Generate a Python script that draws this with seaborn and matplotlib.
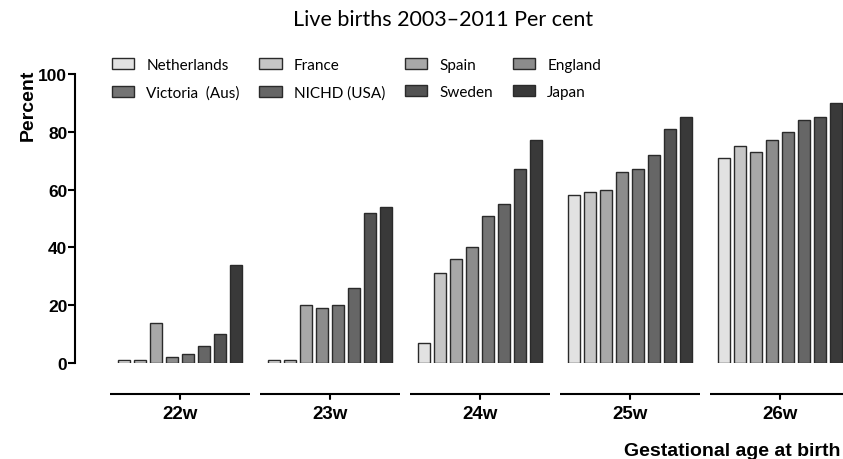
import pandas as pd
import matplotlib
matplotlib.use("Agg")
import matplotlib.pyplot as plt
import seaborn as sns

weeks = ["22w", "23w", "24w", "25w", "26w"]
cohorts = ["Netherlands", "France", "Spain", "England",
           "Victoria  (Aus)", "NICHD (USA)", "Sweden", "Japan"]
netherlands = [1, 1, 7, 58, 71]
france = [1, 1, 31, 59, 75]
spain = [14, 20, 36, 60, 73]
england = [2, 19, 40, 66, 77]
victoria = [3, 20, 51, 67, 80]
nichd = [6, 26, 55, 72, 84]
sweden = [10, 52, 67, 81, 85]
japan = [34, 54, 77, 85, 90]

greys = ["#e2e2e2", "#c6c6c6", "#a8a8a8", "#8c8c8c",
         "#747474", "#666666", "#535353", "#393939"]

series = [netherlands, france, spain, england, victoria, nichd, sweden, japan]
rows = []
for name, vals in zip(cohorts, series):
    for w, v in zip(weeks, vals):
        rows.append({"week": w, "cohort": name, "pct": v})
df = pd.DataFrame(rows)

sns.set_style("ticks")
plt.rcParams["font.family"] = ["Liberation Sans", "DejaVu Sans"]
for k in ["text.color", "axes.labelcolor", "xtick.color", "ytick.color",
          "axes.edgecolor"]:
    plt.rcParams[k] = "black"

fig = plt.figure(figsize=(8.43, 4.6), dpi=100)
ax = fig.add_axes([75 / 843, 1 - 364 / 460, 768 / 843, 289 / 460])

sns.barplot(data=df, x="week", y="pct", hue="cohort", order=weeks,
            hue_order=cohorts, palette=greys, width=0.86, gap=0.25,
            edgecolor="#2a2a2a", linewidth=1.0, ax=ax, legend=True)

ax.set_xlim(-0.7, 4.42)
ax.set_ylim(0, 100)
ax.set_yticks([0, 20, 40, 60, 80, 100])
ax.tick_params(axis="y", labelsize=12.5, width=1.5, length=5, pad=0.5)
for t in ax.get_yticklabels():
    t.set_fontweight("bold")
ax.spines["left"].set_linewidth(1.5)
for s in ["top", "right", "bottom"]:
    ax.spines[s].set_visible(False)
ax.set_xticks([])
ax.set_xlabel("")
ax.set_ylabel("Percent", fontsize=14, fontweight="bold")
ax.yaxis.set_label_coords(-0.05, 0.896)

# broken category axis under each group
for i, w in enumerate(weeks):
    ax.plot([i - 0.467, i + 0.467], [-10.7, -10.7], color="black", lw=1.5,
            clip_on=False, solid_capstyle="butt")
    ax.plot([i, i], [-10.7, -12.4], color="black", lw=1.5, clip_on=False)
    ax.text(i, -17.6, w, ha="center", va="center", fontsize=13.5,
            fontweight="bold")

fig.text(841 / 843, 1 - 452 / 460, "Gestational age at birth",
         ha="right", va="center", fontsize=14, fontweight="bold")
fig.text(443 / 843, 1 - 20 / 460, "Live births 2003\u20132011 Per cent",
         ha="center", va="center", fontsize=15.5,
         family=["Lato", "DejaVu Sans"])

handles, labels = ax.get_legend_handles_labels()
ax.get_legend().remove()
order = [0, 4, 1, 5, 2, 6, 3, 7]
ax.legend([handles[i] for i in order], [labels[i] for i in order],
          ncol=4, frameon=False, loc="upper left",
          bbox_to_anchor=(98 / 843, 1 - 45 / 460),
          bbox_transform=fig.transFigure,
          handlelength=1.45, handleheight=0.72, columnspacing=1.3,
          labelspacing=0.88, handletextpad=0.8,
          prop={"family": ["Lato", "DejaVu Sans"], "size": 11})

fig.savefig("out.png", dpi=100)
